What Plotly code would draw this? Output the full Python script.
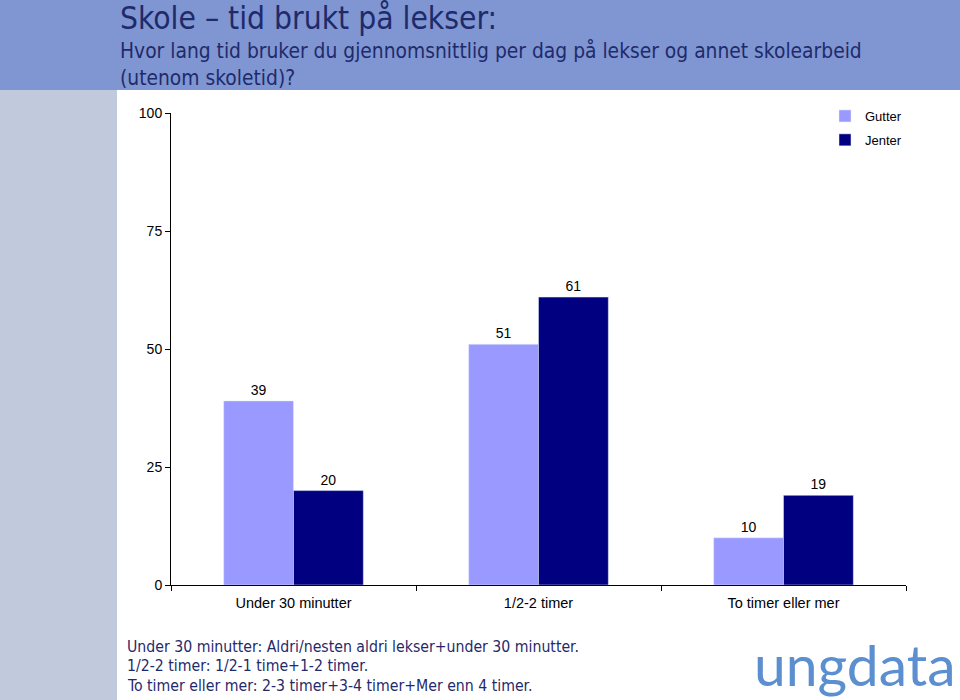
import plotly.graph_objects as go

# chart data
categories = ["Under 30 minutter", "1/2-2 timer", "To timer eller mer"]
gutter = [39, 51, 10]
jenter = [20, 61, 19]
y_ticks = [0, 25, 50, 75, 100]

title = "Skole \u2013 tid brukt på lekser:"
subtitle = "Hvor lang tid bruker du gjennomsnittlig per dag på lekser og annet skolearbeid<br>(utenom skoletid)?"
notes = [
    "Under 30 minutter: Aldri/nesten aldri lekser+under 30 minutter.",
    "1/2-2 timer: 1/2-1 time+1-2 timer.",
    "To timer eller mer: 2-3 timer+3-4 timer+Mer enn 4 timer.",
]

W, H = 960, 700
tahoma = "DejaVu Sans Condensed, DejaVu Sans, sans-serif"
arial = "Liberation Sans, Arial, sans-serif"
navy = "#1f2a6b"

fig = go.Figure()
fig.add_trace(go.Bar(name="Gutter", x=categories, y=gutter, marker_color="#9999ff",
                     text=gutter, textposition="outside", legendgroup="g",
                     textfont=dict(family=arial, size=14, color="black"), cliponaxis=False))
fig.add_trace(go.Bar(name="Jenter", x=categories, y=jenter, marker_color="#000080",
                     text=jenter, textposition="outside", legendgroup="j",
                     textfont=dict(family=arial, size=14, color="black"), cliponaxis=False))

# background panels
fig.add_shape(type="rect", xref="paper", yref="paper", x0=0, x1=1, y0=1 - 90 / H, y1=1,
              fillcolor="#7f96d2", line_width=0, layer="below")
fig.add_shape(type="rect", xref="paper", yref="paper", x0=0, x1=117 / W, y0=0, y1=1 - 90 / H,
              fillcolor="#c0cadc", line_width=0, layer="below")

fig.add_annotation(text=title, xref="paper", yref="paper", x=118 / W, y=1 + 2 / H,
                   xanchor="left", yanchor="top", showarrow=False,
                   font=dict(family=tahoma, size=31.5, color=navy))
fig.add_annotation(text=subtitle, xref="paper", yref="paper", x=118 / W, y=1 - 36 / H,
                   xanchor="left", yanchor="top", showarrow=False, align="left",
                   font=dict(family=tahoma, size=20.8, color=navy))

for i, line in enumerate(notes):
    fig.add_annotation(text=line, xref="paper", yref="paper", x=125 / W,
                       y=1 - (646 + i * 19.5) / H, xanchor="left", yanchor="middle",
                       showarrow=False, font=dict(family=tahoma, size=15.7, color=navy))

fig.add_annotation(text="ungdata", xref="paper", yref="paper", x=1 - 3 / W, y=1 - 664 / H,
                   xanchor="right", yanchor="middle", showarrow=False,
                   font=dict(family="Lato, sans-serif", size=57, color="#5b8fd0"))

fig.update_layout(
    width=W, height=H,
    margin=dict(l=0, r=0, t=0, b=0),
    paper_bgcolor="white", plot_bgcolor="white",
    barmode="group", bargap=0.43, bargroupgap=0,
    showlegend=True,
    legend=dict(x=825 / W, y=1 - 101 / H, xanchor="left", yanchor="top",
                font=dict(family=arial, size=13, color="black"),
                tracegroupgap=4, bgcolor="rgba(0,0,0,0)"),
    xaxis=dict(domain=[171 / W, 906 / W], showline=True, linecolor="black", linewidth=1,
               ticks="outside", tickson="boundaries", ticklen=5, tickcolor="black",
               ticklabelstandoff=5, automargin=False,
               tickfont=dict(family=arial, size=14.5, color="black")),
    yaxis=dict(domain=[1 - 585 / H, 1 - 113 / H], range=[0, 100], tickvals=y_ticks,
               showline=True, linecolor="black", linewidth=1, showgrid=False,
               zeroline=False, ticks="outside", ticklen=5, tickcolor="black",
               automargin=False,
               tickfont=dict(family=arial, size=14, color="black")),
)

fig.write_html("out.html", config={"displayModeBar": False},
               post_script="document.body.style.margin='0';document.body.style.overflow='hidden';")
